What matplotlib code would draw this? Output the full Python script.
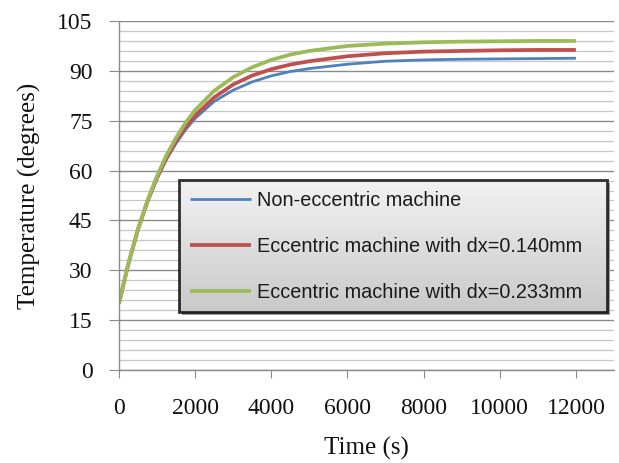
import numpy as np
import matplotlib
matplotlib.use("Agg")
import matplotlib.pyplot as plt
from matplotlib.ticker import MultipleLocator, FixedLocator
from matplotlib.patches import Rectangle

# ------------------------------------------------------------------ #
# values

times = [0, 250, 500, 750, 1000, 1250, 1500, 1750, 2000, 2500, 3000, 3500,
         4000, 4500, 5000, 6000, 7000, 8000, 9000, 10000, 11000, 12000]

temp_non_ecc = [20.0, 32.0, 42.2, 50.6, 57.6, 63.4, 68.2, 72.3, 75.7, 80.8, 84.2, 86.7,
                88.5, 89.8, 90.7, 92.0, 92.9, 93.3, 93.5, 93.6, 93.7, 93.8]
temp_dx140 = [20.0, 32.1, 42.3, 50.8, 57.9, 63.9, 68.9, 73.1, 76.6, 82.0, 85.9, 88.6,
              90.5, 91.9, 92.9, 94.4, 95.3, 95.8, 96.0, 96.2, 96.3, 96.3]
temp_dx233 = [20.0, 32.1, 42.4, 51.1, 58.4, 64.7, 69.9, 74.4, 78.2, 84.0, 88.1, 91.1,
              93.3, 94.9, 96.0, 97.5, 98.2, 98.6, 98.8, 98.9, 99.0, 99.0]

labels = ["Non-eccentric machine",
          "Eccentric machine with dx=0.140mm",
          "Eccentric machine with dx=0.233mm"]

x_ticks = [0, 2000, 4000, 6000, 8000, 10000, 12000]
y_ticks = [0, 15, 30, 45, 60, 75, 90, 105]

# ------------------------------------------------------------------ #

fig = plt.figure(figsize=(6.19, 4.63), dpi=100)
ax = fig.add_axes([0.1922, 0.2009, 0.7997, 0.7537])

serif = "Liberation Serif"

l1, = ax.plot(times, temp_non_ecc, color='#4F81BD', linewidth=2.0, solid_capstyle='butt')
l2, = ax.plot(times, temp_dx140, color='#C0504D', linewidth=2.7, solid_capstyle='butt')
l3, = ax.plot(times, temp_dx233, color='#9BBB59', linewidth=2.7, solid_capstyle='butt')

ax.set_xlim(0, 13000)
ax.set_ylim(0, 105)
ax.xaxis.set_major_locator(FixedLocator(x_ticks))
ax.yaxis.set_major_locator(FixedLocator(y_ticks))
ax.yaxis.set_minor_locator(MultipleLocator(3))

ax.grid(which='major', axis='y', color='#8a8a8a', linewidth=1.0)
ax.grid(which='minor', axis='y', color='#c6c6c6', linewidth=0.9)
ax.set_axisbelow(True)

for side in ['top', 'right']:
    ax.spines[side].set_visible(False)
for side in ['left', 'bottom']:
    ax.spines[side].set_color('#8a8a8a')
    ax.spines[side].set_linewidth(1.0)

ax.tick_params(axis='y', which='major', length=7, color='#8a8a8a', pad=12)
ax.tick_params(axis='x', which='major', length=6, color='#8a8a8a', pad=14)
ax.tick_params(which='minor', length=0)
for lab in ax.get_xticklabels() + ax.get_yticklabels():
    lab.set_fontfamily(serif)
    lab.set_fontsize(17)
    lab.set_color('#111111')

ax.set_xlabel("Time (s)", fontfamily=serif, fontsize=18, color='#111111', labelpad=13)
ax.set_ylabel("Temperature (degrees)", fontfamily=serif, fontsize=18, color='#111111', labelpad=12)

leg = ax.legend([l1, l2, l3], labels, loc='upper left', bbox_to_anchor=(0.1212, 0.169, 0.8647, 0.3754),
                mode='expand', borderaxespad=0.0, prop={'family': 'Liberation Sans', 'size': 14.3},
                handlelength=3.1, handletextpad=0.3, labelspacing=1.35, borderpad=0.55,
                frameon=True, fancybox=False, shadow=False)
leg.get_frame().set_facecolor('none')
leg.get_frame().set_edgecolor('black')
leg.get_frame().set_linewidth(2.0)
leg.set_zorder(6)
for t in leg.get_texts():
    t.set_color('#1a1a1a')

# gradient fill and shadow behind the legend box
fig.canvas.draw()
bb = leg.get_frame().get_window_extent().transformed(ax.transAxes.inverted())
px = ax.transAxes.inverted().transform([(0, 0), (3, 3)])
dx, dy = px[1] - px[0]
ax.add_patch(Rectangle((bb.x0 + dx, bb.y0 - dy), bb.width, bb.height, transform=ax.transAxes,
                       facecolor='#9a9a9a', edgecolor='none', zorder=4.8))
grad = np.linspace(0.95, 0.79, 64).reshape(-1, 1)
ax.imshow(np.dstack([grad, grad, grad]), extent=(bb.x0, bb.x1, bb.y0, bb.y1),
          transform=ax.transAxes, aspect='auto', zorder=4.9, interpolation='bilinear')
ax.set_xlim(0, 13000)
ax.set_ylim(0, 105)

plt.savefig("out.png", dpi=100)
